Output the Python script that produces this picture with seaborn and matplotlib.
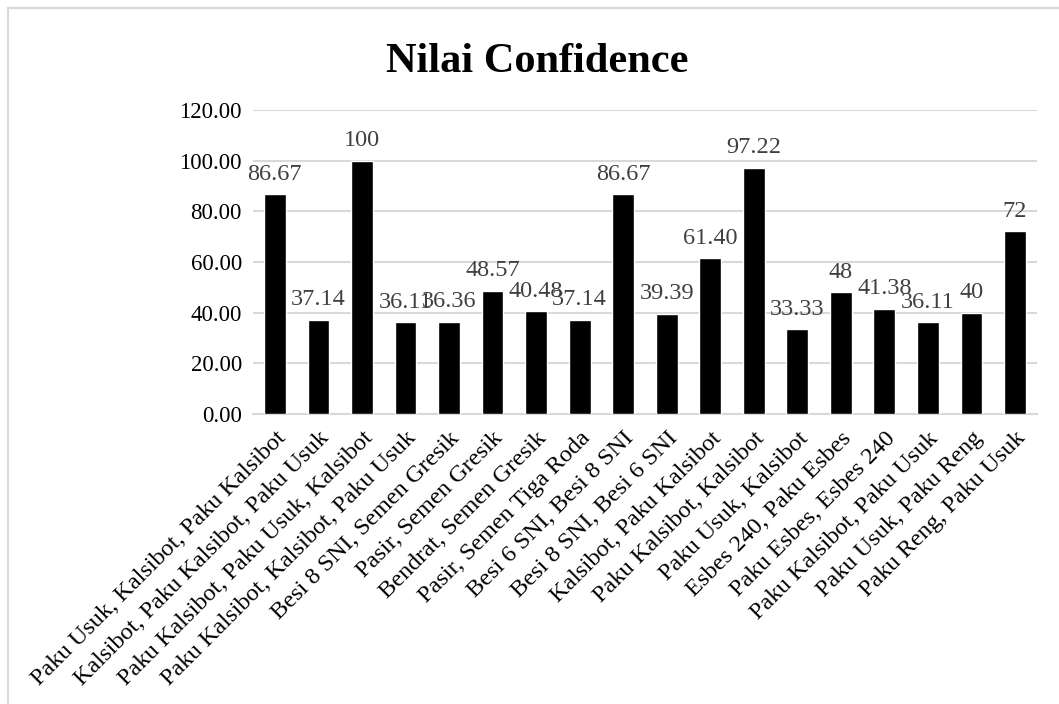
import matplotlib
matplotlib.use("Agg")
import matplotlib.pyplot as plt
import seaborn as sns
import pandas as pd
from matplotlib.patches import Rectangle

ITEMSETS = [
    "Paku Usuk, Kalsibot, Paku Kalsibot",
    "Kalsibot, Paku Kalsibot, Paku Usuk",
    "Paku Kalsibot, Paku Usuk, Kalsibot",
    "Paku Kalsibot, Kalsibot, Paku Usuk",
    "Besi 8 SNI, Semen Gresik",
    "Pasir, Semen Gresik",
    "Bendrat, Semen Gresik",
    "Pasir, Semen Tiga Roda",
    "Besi 6 SNI, Besi 8 SNI",
    "Besi 8 SNI, Besi 6 SNI",
    "Kalsibot, Paku Kalsibot",
    "Paku Kalsibot, Kalsibot",
    "Paku Usuk, Kalsibot",
    "Esbes 240, Paku Esbes",
    "Paku Esbes, Esbes 240",
    "Paku Kalsibot, Paku Usuk",
    "Paku Usuk, Paku Reng",
    "Paku Reng, Paku Usuk",
]
CONFIDENCE = [86.67, 37.14, 100, 36.11, 36.36, 48.57, 40.48, 37.14, 86.67,
              39.39, 61.40, 97.22, 33.33, 48, 41.38, 36.11, 40, 72]
VALUE_LABELS = ["86.67", "37.14", "100", "36.11", "36.36", "48.57", "40.48",
                "37.14", "86.67", "39.39", "61.40", "97.22", "33.33", "48",
                "41.38", "36.11", "40", "72"]
Y_TICKS = [0, 20, 40, 60, 80, 100, 120]

sns.set_style("white")
plt.rcParams["font.family"] = ["Liberation Serif", "DejaVu Serif"]

df = pd.DataFrame({"itemset": ITEMSETS, "confidence": CONFIDENCE})

fig = plt.figure(figsize=(10.59, 7.04), dpi=100)
ax = fig.add_axes([0.239, 0.412, 0.740, 0.432])

sns.barplot(data=df, x="itemset", y="confidence", color="black",
            width=0.5, saturation=1, ax=ax, zorder=3)

for i, (v, lab) in enumerate(zip(CONFIDENCE, VALUE_LABELS)):
    ax.annotate(lab, (i, v), xytext=(0, 7), textcoords="offset points",
                ha="center", va="bottom", fontsize=17.5, color="#404040")

ax.set_ylim(0, 120)
ax.set_yticks(Y_TICKS)
ax.set_yticklabels([f"{t:.2f}" for t in Y_TICKS], fontsize=16.5, color="black")
ax.set_xlim(-0.5, len(ITEMSETS) - 0.5)
ax.set_xticks(range(len(ITEMSETS)))
ax.set_xticklabels(ITEMSETS, rotation=45, ha="right", rotation_mode="anchor",
                   fontsize=17.5, color="black")
ax.tick_params(axis="y", length=0, pad=8)
ax.tick_params(axis="x", length=0, pad=10)
ax.set_xlabel("")
ax.set_ylabel("")
ax.yaxis.grid(True, color="#d9d9d9", linewidth=1.5, zorder=0)
for side in ["top", "right", "left"]:
    ax.spines[side].set_visible(False)
ax.spines["bottom"].set_color("#d9d9d9")
ax.spines["bottom"].set_linewidth(1.5)

fig.text(0.507, 0.912, "Nilai Confidence", ha="center", va="center",
         fontsize=30.5, fontweight="bold", color="black")

# light frame of the chart area (top and left edges visible)
fig.patches.append(Rectangle((0.0075, -0.1), 1.1, 1.0886, transform=fig.transFigure,
                             fill=False, edgecolor="#d9d9d9", linewidth=1.5))

fig.savefig("out.png", dpi=100)
